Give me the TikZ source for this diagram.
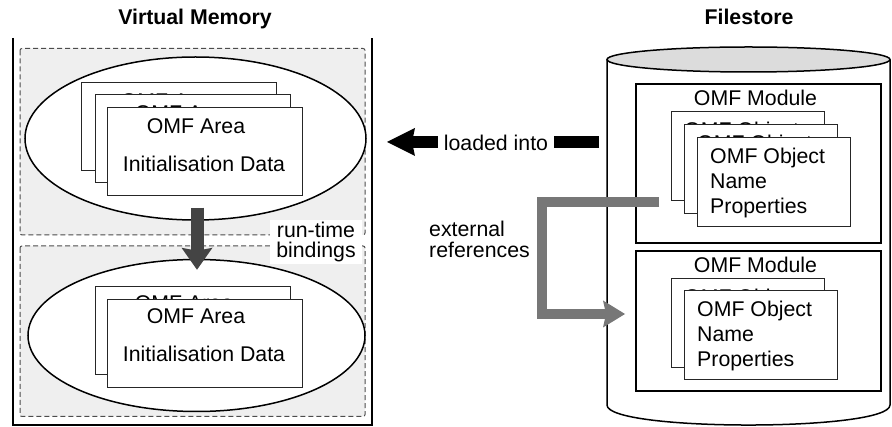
\documentclass[tikz,border=0pt]{standalone}
\usepackage{fontspec}
\setmainfont{Liberation Sans}
\usetikzlibrary{arrows.meta,calc,shapes.geometric}
\definecolor{dashfill}{HTML}{EFEFEF}
\definecolor{cyltop}{HTML}{DCDCDC}
\definecolor{darkarr}{HTML}{444444}
\definecolor{grayarr}{HTML}{777777}
\newcommand\omfarea[5]{%
  \node[areabox] (#1) at (#2,#3) {};
  \node[txt, anchor=base] (#1t) at ($(#1.north west)+(89,#4)$) {OMF Area};
  \node[txt, anchor=base] (#1d) at ($(#1.north west)+(97,#5)$) {Initialisation Data};
}
\newcommand\omfobj[3]{%
  \node[objbox] (#1) at (#2,#3) {};
  \node[txt, anchor=base west] (#1a) at ($(#1.north west)+(13,27)$) {OMF Object};
  \node[txt, anchor=base west] (#1b) at ($(#1.north west)+(13,52)$) {Name};
  \node[txt, anchor=base west] (#1c) at ($(#1.north west)+(13,77)$) {Properties};
}
\begin{document}
\begin{tikzpicture}[x=1pt,y=-1pt,
  txt/.style={font=\fontsize{21.3}{21}\selectfont, inner sep=0pt},
  ttl/.style={font=\fontsize{21.3}{21}\selectfont\bfseries, inner sep=0pt},
  dbox/.style={draw=black!70, dash pattern=on 5pt off 3pt, line width=1pt, fill=dashfill, rounded corners=2pt},
  ellnode/.style={ellipse, draw=black, line width=1.5pt, fill=white, inner sep=0pt},
  areabox/.style={draw=black!85, line width=1pt, fill=white, minimum width=195pt, minimum height=88pt, inner sep=0pt, anchor=north west},
  objbox/.style={draw=black!85, line width=1pt, fill=white, minimum width=153pt, minimum height=89pt, inner sep=0pt, anchor=north west},
  modbox/.style={draw=black, line width=2pt, fill=white, minimum width=245pt, inner sep=0pt, anchor=north west},
  darkarrow/.style={draw=darkarr, line width=13pt, -{Stealth[length=22pt,width=31pt,inset=3pt,line width=0pt]}},
  grayarrow/.style={draw=grayarr, line width=10pt, line join=miter, -{Stealth[length=22pt,width=27pt,inset=3pt,line width=0pt]}},
  blackarrow/.style={draw=black, line width=12pt, -{Stealth[length=28pt,width=28pt,inset=3pt,line width=0pt]}},
  cyl/.style={draw=black, line width=1.5pt}
]
\useasboundingbox (0,0) rectangle (892,427);

% ---------- Virtual Memory ----------
\node[ttl, anchor=base] (vmtitle) at (195,25) {Virtual Memory};
\draw[line width=2pt] (13,38) -- (13,425.5) -- (372,425.5) -- (372,38);
\draw[dbox] (20,48.5) rectangle (365,235);
\draw[dbox] (20,246) rectangle (365,416.5);

\node[ellnode, minimum width=341pt, minimum height=163pt] (e1) at (195.5,138.5) {};
\omfarea{a1}{81}{82}{27}{65}
\omfarea{a2}{95}{94}{27}{65}
\omfarea{a3}{107}{107}{27}{65}

\node[ellnode, minimum width=337pt, minimum height=152pt] (e2) at (196.5,335.5) {};
\omfarea{b1}{95}{286}{25}{63}
\omfarea{b2}{107}{299}{25}{63}

\draw[darkarrow] ($(e1.south)+(1.5,-13)$) -- ($(e2.north)+(0.5,11)$);
\node[txt, fill=white, align=center, inner xsep=6pt, inner ysep=2pt,
      font=\fontsize{21.3}{20}\selectfont] (rtb) at (316,242) {run-time\\bindings};

% ---------- Filestore ----------
\node[ttl, anchor=base] (fstitle) at (749,25) {Filestore};
\fill[white] (607,59.5) -- (607,405) .. controls (607,431.7) and (890,431.7) .. (890,405) -- (890,59.5) -- cycle;
\draw[cyl] (607,59.5) -- (607,405) .. controls (607,431.7) and (890,431.7) .. (890,405) -- (890,59.5);
\draw[cyl, fill=cyltop] (748.5,59.5) ellipse [x radius=141.5, y radius=12.5];

\node[modbox, minimum height=159pt] (m1) at (635,83) {};
\node[txt, anchor=base] (m1t) at ($(m1.north)+(-3,23)$) {OMF Module};
\omfobj{o1}{671}{111}
\omfobj{o2}{684}{124}
\omfobj{o3}{697}{137}

\node[modbox, minimum height=140pt] (m2) at (635,250) {};
\node[txt, anchor=base] (m2t) at ($(m2.north)+(-3,23)$) {OMF Module};
\omfobj{o4}{671}{278}
\omfobj{o5}{684}{290}

% ---------- connectors ----------
\coordinate (xrsrc) at (659,202);
\coordinate (xrtgt) at (625,314);
\draw[grayarrow] (xrsrc) -- (542,202) |- (xrtgt);
\node[txt, align=left, anchor=west, font=\fontsize{21.3}{21}\selectfont] (xref) at (429,239.5) {external\\references};

\coordinate (ldsrc) at (599,142);
\coordinate (ldtgt) at (387,142);
\draw[blackarrow] (ldsrc) -- (ldtgt);
\node[txt, fill=white, inner xsep=6pt, inner ysep=1.5pt, anchor=base] (ldlbl) at (496,151) {loaded into};
\end{tikzpicture}
\end{document}
